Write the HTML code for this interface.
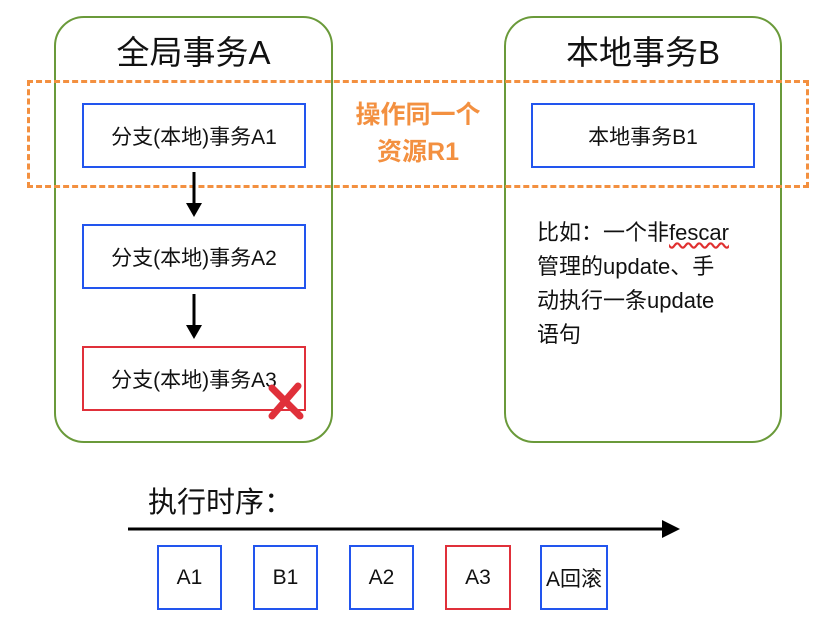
<!DOCTYPE html>
<html><head><meta charset="utf-8"><style>
body{margin:0;width:830px;height:635px;background:#fff;position:relative;overflow:hidden;font-family:"Liberation Sans","Noto Sans CJK SC",sans-serif;color:#111}
.a{position:absolute;box-sizing:border-box}
.g{border:2px solid #6a9a3a;border-radius:30px}
.bx{border:2px solid #2255ee;display:flex;align-items:center;justify-content:center;font-size:21px}
.r{border-color:#e0303a}
.t{position:absolute;white-space:nowrap}
</style></head><body>
<div class="a g" style="left:54px;top:16px;width:279px;height:427px"></div>
<div class="a g" style="left:504px;top:16px;width:278px;height:427px"></div>
<div class="a" style="left:27px;top:80px;width:782px;height:108px;border:3px dashed #f39040"></div>
<div class="t" style="left:54px;width:279px;text-align:center;top:26px;font-size:33px">全局事务A</div>
<div class="t" style="left:504px;width:278px;text-align:center;top:26px;font-size:33px">本地事务B</div>
<div class="a bx" style="left:82px;top:103px;width:224px;height:65px">分支(本地)事务A1</div>
<div class="a bx" style="left:531px;top:103px;width:224px;height:65px">本地事务B1</div>
<div class="a bx" style="left:82px;top:224px;width:224px;height:65px">分支(本地)事务A2</div>
<div class="a bx r" style="left:82px;top:346px;width:224px;height:65px">分支(本地)事务A3</div>
<div class="t" style="left:340px;width:156px;text-align:center;top:97px;font-size:25px;font-weight:bold;color:#f39040;line-height:37px">操作同一个<br>资源R1</div>
<div class="t" style="left:537px;top:216px;font-size:22px;line-height:34px">比如：一个非<span style="text-decoration:underline wavy #e03030">fescar</span><br>管理的update、手<br>动执行一条update<br>语句</div>
<div class="t" style="left:148px;top:479px;font-size:29px">执行时序：</div>
<svg class="a" style="left:0;top:0" width="830" height="635">
<path d="M194 172V205M194 294V327" stroke="#000" stroke-width="3"/>
<path d="M186 203L194 217L202 203ZM186 325L194 339L202 325Z" fill="#000"/>
<path d="M128 529H664" stroke="#000" stroke-width="3"/>
<path d="M662 520L680 529L662 538Z" fill="#000"/>
<path d="M272 416L298 386M272 388L300 416" stroke="#e0303a" stroke-width="7" stroke-linecap="round"/>
</svg>
<div class="a bx" style="left:157px;top:545px;width:65px;height:65px">A1</div>
<div class="a bx" style="left:253px;top:545px;width:65px;height:65px">B1</div>
<div class="a bx" style="left:349px;top:545px;width:65px;height:65px">A2</div>
<div class="a bx r" style="left:445px;top:545px;width:66px;height:65px">A3</div>
<div class="a bx" style="left:540px;top:545px;width:68px;height:65px">A回滚</div>
</body></html>
